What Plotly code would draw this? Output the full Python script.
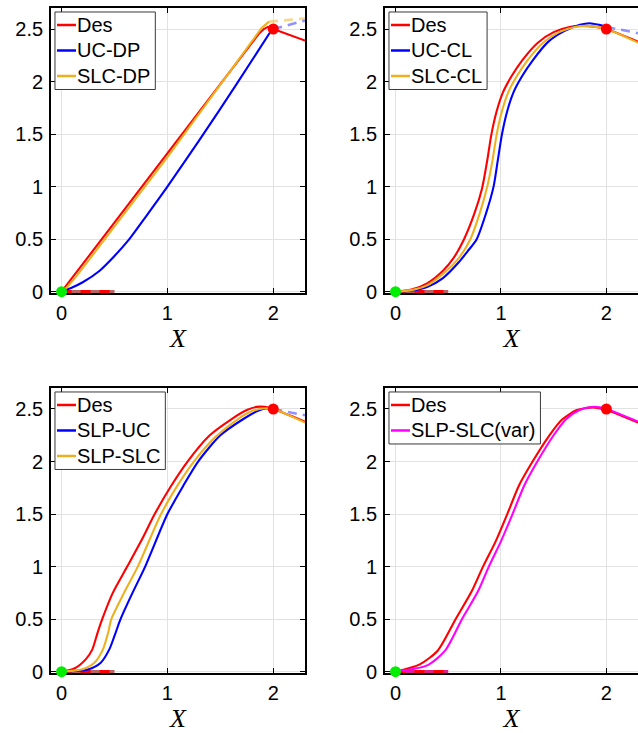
import plotly.graph_objects as go

# ---------------- data ----------------
x_ticks = [0, 1, 2]
y_ticks = [0, 0.5, 1, 1.5, 2, 2.5]
y_ticklabels = ["0", "0.5", "1", "1.5", "2", "2.5"]

start_x, start_y = [0], [0]
goal_x, goal_y = [2.0], [2.5]
init_x, init_y = [0, 0.5], [0, 0]

# Panel 1 : DP
des1_x = [0, 1.86, 1.91, 1.95, 2.0, 2.3]
des1_y = [0, 2.45, 2.5, 2.52, 2.5, 2.39]
ucdp_x = [0, 0.1, 0.2, 0.36, 0.5, 0.64, 0.8, 1.0, 1.3, 1.65, 1.99]
ucdp_y = [0, 0.04, 0.09, 0.2, 0.34, 0.5, 0.72, 1.0, 1.44, 1.97, 2.5]
ucdp_ext_x = [2.0, 2.3]
ucdp_ext_y = [2.5, 2.58]
slcdp_x = [0, 0.05, 0.15, 1.0, 1.89, 1.96]
slcdp_y = [0, 0.04, 0.16, 1.28, 2.51, 2.57]
slcdp_ext_x = [1.96, 2.3]
slcdp_ext_y = [2.57, 2.6]

# Panel 2 : CL
des2_x = [0, 0.15, 0.3, 0.45, 0.55, 0.65, 0.75, 0.82, 0.87, 0.91, 0.96, 1.02, 1.1, 1.2, 1.35, 1.5, 1.65, 1.77, 1.9, 2.0, 2.3]
des2_y = [0, 0.02, 0.08, 0.2, 0.32, 0.5, 0.75, 0.98, 1.25, 1.5, 1.72, 1.9, 2.05, 2.2, 2.37, 2.47, 2.52, 2.53, 2.52, 2.5, 2.38]
uccl_x = [0, 0.15, 0.3, 0.45, 0.6, 0.68, 0.77, 0.86, 0.93, 0.97, 1.01, 1.06, 1.12, 1.2, 1.3, 1.45, 1.6, 1.75, 1.84, 1.93, 2.0]
uccl_y = [0, 0.01, 0.045, 0.13, 0.28, 0.38, 0.5, 0.75, 1.0, 1.25, 1.5, 1.72, 1.9, 2.05, 2.2, 2.38, 2.48, 2.54, 2.555, 2.54, 2.52]
uccl_ext_x = [2.0, 2.3]
uccl_ext_y = [2.52, 2.46]
slccl_x = [0, 0.15, 0.3, 0.45, 0.6, 0.71, 0.8, 0.87, 0.92, 0.96, 1.01, 1.07, 1.15, 1.25, 1.4, 1.55, 1.7, 1.8, 1.9, 2.0, 2.3]
slccl_y = [0, 0.015, 0.06, 0.17, 0.32, 0.5, 0.75, 1.0, 1.25, 1.5, 1.72, 1.9, 2.05, 2.2, 2.37, 2.47, 2.52, 2.53, 2.52, 2.5, 2.37]

# Panel 3 : SLP
des3_x = [0, 0.12, 0.23, 0.29, 0.34, 0.384, 0.484, 0.62, 0.76, 0.88, 1.03, 1.19, 1.4, 1.6, 1.75, 1.84, 1.92, 2.0, 2.3]
des3_y = [0, 0.03, 0.12, 0.21, 0.37, 0.5, 0.75, 1.0, 1.26, 1.5, 1.76, 2.0, 2.25, 2.4, 2.49, 2.52, 2.52, 2.5, 2.38]
slpuc_x = [0, 0.25, 0.37, 0.45, 0.5, 0.557, 0.67, 0.79, 1.0, 1.15, 1.29, 1.5, 1.71, 1.85, 1.93, 2.0]
slpuc_y = [0, 0.02, 0.085, 0.21, 0.34, 0.5, 0.75, 1.0, 1.5, 1.77, 2.0, 2.25, 2.4, 2.48, 2.505, 2.5]
slpuc_ext_x = [2.0, 2.3]
slpuc_ext_y = [2.5, 2.44]
slpslc_x = [0, 0.19, 0.31, 0.39, 0.44, 0.47, 0.59, 0.72, 0.94, 1.1, 1.25, 1.45, 1.66, 1.8, 1.9, 2.0, 2.3]
slpslc_y = [0, 0.02, 0.085, 0.21, 0.37, 0.5, 0.75, 1.0, 1.5, 1.78, 2.0, 2.23, 2.4, 2.48, 2.505, 2.5, 2.37]

# Panel 4 : SLP-SLC(var)
des4_x = [0, 0.23, 0.4, 0.57, 0.72, 0.83, 0.95, 1.06, 1.17, 1.3, 1.46, 1.58, 1.72, 1.87, 2.0, 2.3]
des4_y = [0, 0.07, 0.2, 0.5, 0.76, 1.0, 1.24, 1.5, 1.77, 2.0, 2.25, 2.4, 2.49, 2.515, 2.49, 2.37]
slpvar_x = [0, 0.3, 0.47, 0.63, 0.78, 0.885, 1.0, 1.11, 1.22, 1.345, 1.5, 1.615, 1.745, 1.88, 2.0, 2.3]
slpvar_y = [0, 0.06, 0.2, 0.5, 0.76, 1.0, 1.24, 1.5, 1.77, 2.0, 2.25, 2.4, 2.49, 2.52, 2.5, 2.38]

# legend names per panel
names1 = ["Des", "UC-DP", "SLC-DP"]
names2 = ["Des", "UC-CL", "SLC-CL"]
names3 = ["Des", "SLP-UC", "SLP-SLC"]
names4 = ["Des", "SLP-SLC(var)"]

# ---------------- styles ----------------
RED = "#ff0000"
BLUE = "#0000ff"
ORANGE = "#EDB120"
MAGENTA = "#ff00ff"
GREEN = "#00ee00"
LW = 2.1
FONT = "Arial, Liberation Sans, sans-serif"
W, H = 638, 733

fig = go.Figure()


def line(x, y, color, name, ax, dash=None, width=LW, smooth=True):
    fig.add_trace(go.Scatter(
        x=x, y=y, mode="lines", name=name,
        line=dict(color=color, width=width, dash=dash,
                  shape="spline" if smooth else "linear", smoothing=0.7),
        xaxis=ax[0], yaxis=ax[1], showlegend=False, hoverinfo="skip"))


def init_seg(ax, alt):
    line(init_x, init_y, alt, "", ax, width=3.4, smooth=False)
    line(init_x, init_y, RED, "", ax, dash="10px,9px", width=3.4, smooth=False)


def markers(ax):
    for (mx, my, c) in ((start_x, start_y, GREEN), (goal_x, goal_y, RED)):
        fig.add_trace(go.Scatter(x=mx, y=my, mode="markers",
                                 marker=dict(color=c, size=11), cliponaxis=False,
                                 xaxis=ax[0], yaxis=ax[1],
                                 showlegend=False, hoverinfo="skip"))


EXT_BLUE = "rgba(110,110,255,0.75)"
EXT_ORANGE = "rgba(237,177,32,0.5)"

# Panel 1
a1 = ("x", "y")
init_seg(a1, "#b86464")
line(ucdp_ext_x, ucdp_ext_y, EXT_BLUE, "", a1, dash="9px,6px", width=2.6, smooth=False)
line(slcdp_ext_x, slcdp_ext_y, EXT_ORANGE, "", a1, dash="9px,6px", width=2.6, smooth=False)
line(des1_x, des1_y, RED, names1[0], a1, smooth=False)
line(ucdp_x, ucdp_y, BLUE, names1[1], a1)
line(slcdp_x, slcdp_y, ORANGE, names1[2], a1, smooth=False)
markers(a1)

# Panel 2
a2 = ("x2", "y2")
init_seg(a2, "#b86464")
line(uccl_ext_x, uccl_ext_y, EXT_BLUE, "", a2, dash="9px,6px", width=2.6, smooth=False)
line(des2_x, des2_y, RED, names2[0], a2)
line(uccl_x, uccl_y, BLUE, names2[1], a2)
line(slccl_x, slccl_y, ORANGE, names2[2], a2)
markers(a2)

# Panel 3
a3 = ("x3", "y3")
init_seg(a3, "#b86464")
line(slpuc_ext_x, slpuc_ext_y, EXT_BLUE, "", a3, dash="9px,6px", width=2.6, smooth=False)
line(des3_x, des3_y, RED, names3[0], a3)
line(slpuc_x, slpuc_y, BLUE, names3[1], a3)
line(slpslc_x, slpslc_y, ORANGE, names3[2], a3)
markers(a3)

# Panel 4
a4 = ("x4", "y4")
init_seg(a4, "#e0208a")
line(des4_x, des4_y, RED, names4[0], a4)
line(slpvar_x, slpvar_y, MAGENTA, names4[1], a4)
markers(a4)

# ---------------- layout ----------------
tickfont = dict(size=20, family=FONT, color="black")


def xaxis(domain, anchor):
    return dict(domain=domain, anchor=anchor, range=[-0.1, 2.3], automargin=False,
                tickvals=x_ticks, ticks="inside", ticklen=5, tickcolor="black",
                showline=True, linecolor="black", linewidth=1.6, mirror="allticks",
                showgrid=True, gridcolor="#e2e2e2", gridwidth=1, zeroline=False,
                layer="below traces", tickfont=tickfont, ticklabelstandoff=1,
                title=dict(text="<i>X</i>", standoff=3,
                           font=dict(family="Liberation Serif, Times New Roman, serif",
                                     size=26, color="black")))


def yaxis(domain, anchor, mirror):
    return dict(domain=domain, anchor=anchor, range=[-0.012, 2.7], automargin=False,
                tickvals=y_ticks, ticktext=y_ticklabels, ticks="inside", ticklen=5,
                tickcolor="black", showline=True, linecolor="black", linewidth=1.6,
                mirror=mirror, showgrid=True, gridcolor="#e2e2e2", gridwidth=1,
                zeroline=False, layer="below traces", tickfont=tickfont,
                ticklabelstandoff=2)


XL = [0.0799, 0.4781]
XR = [0.6034, 1.0]
YT = [0.6003, 0.9891]
YB = [0.0819, 0.4707]

# ---- legend boxes (drawn as layout decoration) ----
ARIAL_W = {' ': 278, '-': 333, '(': 333, ')': 333, 'a': 556, 'e': 556, 's': 500,
           'r': 333, 'v': 500, 'C': 722, 'D': 722, 'L': 556, 'P': 667, 'S': 667,
           'U': 722}
LEG_FS = 20
shapes, annotations = [], []


def px(xp):
    return xp / W


def py(yp):
    return 1 - yp / H


def add_legend(xdom, ydom, names, colors):
    left = xdom[0] * W + 4
    top = (1 - ydom[1]) * H + 4
    row = 25.5
    tw = max(sum(ARIAL_W.get(c, 600) for c in n) for n in names) * LEG_FS / 1000
    right = left + 22 + tw + 5
    bottom = top + row * len(names) + 1
    shapes.append(dict(type="rect", xref="paper", yref="paper",
                       x0=px(left), x1=px(right), y0=py(bottom), y1=py(top),
                       fillcolor="white", line=dict(color="#3a3a3a", width=1)))
    for i, (n, c) in enumerate(zip(names, colors)):
        yc = top + 13 + row * i
        shapes.append(dict(type="line", xref="paper", yref="paper",
                           x0=px(left + 2), x1=px(left + 21), y0=py(yc), y1=py(yc),
                           line=dict(color=c, width=2.5)))
        annotations.append(dict(text=n, xref="paper", yref="paper",
                                x=px(left + 20), y=py(yc), xanchor="left",
                                yanchor="middle", showarrow=False,
                                font=dict(size=LEG_FS, family=FONT, color="black")))


add_legend(XL, YT, names1, [RED, BLUE, ORANGE])
add_legend(XR, YT, names2, [RED, BLUE, ORANGE])
add_legend(XL, YB, names3, [RED, BLUE, ORANGE])
add_legend(XR, YB, names4, [RED, MAGENTA])

fig.update_layout(
    width=W, height=H, margin=dict(l=0, r=0, t=0, b=0, autoexpand=False),
    paper_bgcolor="white", plot_bgcolor="white", showlegend=False,
    xaxis=xaxis(XL, "y"), yaxis=yaxis(YT, "x", "allticks"),
    xaxis2=xaxis(XR, "y2"), yaxis2=yaxis(YT, "x2", False),
    xaxis3=xaxis(XL, "y3"), yaxis3=yaxis(YB, "x3", "allticks"),
    xaxis4=xaxis(XR, "y4"), yaxis4=yaxis(YB, "x4", False),
    shapes=shapes, annotations=annotations,
)

fig.write_html("out.html")
